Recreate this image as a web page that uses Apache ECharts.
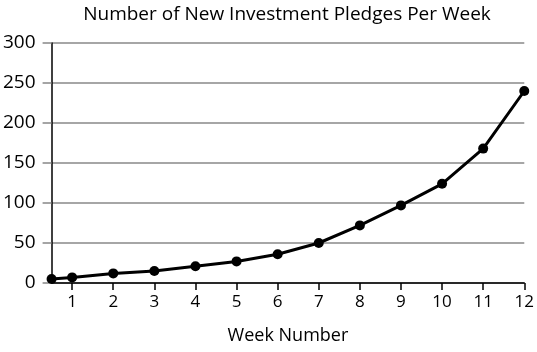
<!DOCTYPE html>
<html><head><meta charset="utf-8">
<script src="https://cdn.jsdelivr.net/npm/echarts@6/dist/echarts.min.js"></script>
<style>html,body{margin:0;padding:0;background:#fff}#c{width:537px;height:352px}</style>
</head><body><div id="c"></div>
<script>
const weeks = [0.5, 1, 2, 3, 4, 5, 6, 7, 8, 9, 10, 11, 12];
const pledges = [5, 7, 12, 15, 21, 27, 36, 50, 72, 97, 124, 168, 240];
const xTicks = [1, 2, 3, 4, 5, 6, 7, 8, 9, 10, 11, 12];
const title = 'Number of New Investment Pledges Per Week';
const xName = 'Week Number';
const font = 'Open Sans';
const chart = echarts.init(document.getElementById('c'));
chart.setOption({
  animation: false,
  title: {text: title, left: 282, top: 0, textAlign: 'center',
    textStyle: {fontFamily: font, fontSize: 19, fontWeight: 'normal', color: '#000'}},
  grid: {left: 51, right: 11, top: 43, bottom: 69},
  xAxis: {
    type: 'value', min: 0.5, max: 12,
    name: xName, nameLocation: 'middle', nameGap: 44,
    nameTextStyle: {fontFamily: font, fontSize: 18, color: '#000'},
    axisLine: {show: true, lineStyle: {color: '#000', width: 1.5}},
    axisTick: {show: true, customValues: xTicks, length: 7, lineStyle: {color: '#000', width: 1.5}},
    axisLabel: {customValues: xTicks, fontFamily: font, fontSize: 17, color: '#000', margin: 11},
    splitLine: {show: false}
  },
  yAxis: {
    type: 'value', min: 0, max: 300, interval: 50,
    axisLine: {show: true, lineStyle: {color: '#000', width: 1.5}},
    axisTick: {show: true, length: 9, lineStyle: {color: '#888', width: 1.5}},
    axisLabel: {fontFamily: font, fontSize: 19, color: '#000', margin: 16},
    splitLine: {show: true, lineStyle: {color: '#888', width: 1.5}}
  },
  series: [{
    type: 'line',
    data: weeks.map((w, i) => [w, pledges[i]]),
    symbol: 'circle', symbolSize: 10,
    lineStyle: {color: '#000', width: 3},
    itemStyle: {color: '#000'}
  }]
});
</script></body></html>
